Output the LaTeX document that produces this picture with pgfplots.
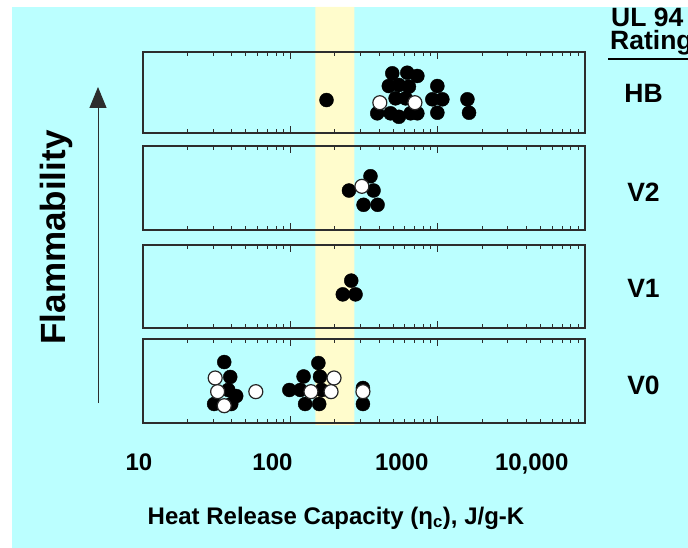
\documentclass[border=0pt]{standalone}
\usepackage{pgfplots}
\pgfplotsset{compat=1.18}
\usetikzlibrary{arrows.meta}
\usepackage{fontspec}
\setmainfont{Liberation Sans}

\definecolor{bgcyan}{RGB}{187,255,255}
\definecolor{band}{RGB}{255,252,204}
\definecolor{framec}{RGB}{45,45,45}

\begin{document}
\begin{tikzpicture}
\useasboundingbox (0,0) rectangle (688pt,-548pt);
\fill[bgcyan] (12pt,-7pt) rectangle (688pt,-548pt);

% yellow band behind the panels
\begin{axis}[at={(143pt,-7pt)}, anchor=north west, scale only axis,
    width=442pt, height=418pt, hide axis,
    xmode=log, xmin=10, xmax=10000, ymin=0, ymax=1]
  \addplot[draw=none, fill=band] coordinates {(148,0) (272,0) (272,1) (148,1)} \closedcycle;
\end{axis}

% HB
\begin{axis}[anchor=north west, scale only axis, width=442pt,
    xmode=log, xmin=10, xmax=10000, ymin=0, ymax=1,
    ytick=\empty, xticklabels={}, tick align=inside, xtick pos=both,
    major tick length=7pt, minor tick length=4pt,
    tick style={line width=1pt, framec},
    axis line style={line width=1.4pt, framec}, clip=false,
    at={(143pt,-52pt)}, height=81pt]
  \addplot[only marks, mark=*, mark size=7pt, mark options={fill=black, draw=black}] coordinates {
    (176,0.407) (492,0.737) (622,0.744) (728,0.704) (466,0.58) (545,0.593)
    (638,0.572) (995,0.58) (920,0.416) (1076,0.416) (1592,0.416) (518,0.428)
    (606,0.428) (389,0.243) (479,0.243) (545,0.20) (655,0.243) (728,0.243)
    (995,0.25) (1633,0.25)};
  \addplot[only marks, mark=*, mark size=7pt, mark options={fill=white, draw=black!85, line width=1.2pt}]
    coordinates {(405,0.374) (701,0.374)};
\end{axis}

% V2
\begin{axis}[anchor=north west, scale only axis, width=442pt,
    xmode=log, xmin=10, xmax=10000, ymin=0, ymax=1,
    ytick=\empty, xticklabels={}, tick align=inside, xtick pos=both,
    major tick length=7pt, minor tick length=4pt,
    tick style={line width=1pt, framec},
    axis line style={line width=1.4pt, framec}, clip=false,
    at={(143pt,-146pt)}, height=84pt]
  \addplot[only marks, mark=*, mark size=7pt, mark options={fill=black, draw=black}]
    coordinates {(350,0.64) (250,0.47) (367,0.47) (314,0.30) (391,0.30)};
  \addplot[only marks, mark=*, mark size=7pt, mark options={fill=white, draw=black!85, line width=1.2pt}]
    coordinates {(306,0.52)};
\end{axis}

% V1
\begin{axis}[anchor=north west, scale only axis, width=442pt,
    xmode=log, xmin=10, xmax=10000, ymin=0, ymax=1,
    ytick=\empty, xticklabels={}, tick align=inside, xtick pos=both,
    major tick length=7pt, minor tick length=4pt,
    tick style={line width=1pt, framec},
    axis line style={line width=1.4pt, framec}, clip=false,
    at={(143pt,-245pt)}, height=83pt]
  \addplot[only marks, mark=*, mark size=7pt, mark options={fill=black, draw=black}]
    coordinates {(259,0.571) (227,0.405) (277,0.405)};
\end{axis}

% V0
\begin{axis}[anchor=north west, scale only axis, width=442pt,
    xmode=log, xmin=10, xmax=10000, ymin=0, ymax=1,
    ytick=\empty, xticklabels={}, tick align=inside, xtick pos=both,
    major tick length=7pt, minor tick length=4pt,
    tick style={line width=1pt, framec},
    axis line style={line width=1.4pt, framec}, clip=false,
    at={(143pt,-339pt)}, height=84pt]
  \addplot[only marks, mark=*, mark size=7pt, mark options={fill=black, draw=black}] coordinates {
    (35.6,0.726) (39.1,0.548) (37.9,0.393) (42.9,0.321) (30.4,0.226) (39.7,0.226)
    (155,0.714) (123,0.554) (159,0.551) (98.5,0.393) (117,0.393) (163,0.393)
    (126,0.226) (157,0.226) (311,0.226) (311,0.417)};
  \addplot[only marks, mark=*, mark size=7pt, mark options={fill=white, draw=black!85, line width=1.2pt}] coordinates {
    (30.9,0.536) (32.1,0.373) (35.6,0.206) (58.3,0.373)
    (198,0.536) (138,0.373) (189,0.373) (311,0.373)};
\end{axis}

% x tick labels (set apart from the ticks as in the original)
\begin{scope}[every node/.style={anchor=base, inner sep=0pt,
    font=\bfseries\fontsize{24}{28}\selectfont}]
  \node at (139pt,-470pt) {10};
  \node at (272.5pt,-470pt) {100};
  \node at (401.7pt,-470pt) {1000};
  \node at (531.7pt,-470pt) {10,000};
  \node at (336pt,-524pt) {Heat Release Capacity (η\textsubscript{c}), J/g-K};
\end{scope}

% rating labels
\begin{scope}[every node/.style={anchor=base, inner sep=0pt,
    font=\bfseries\fontsize{26.5}{30}\selectfont}]
  \node at (643.5pt,-103pt) {HB};
  \node at (643.5pt,-202pt) {V2};
  \node at (643.5pt,-297pt) {V1};
  \node at (643.5pt,-394pt) {V0};
\end{scope}
\node[anchor=base west, inner sep=0pt, font=\bfseries\fontsize{26.5}{28}\selectfont]
  at (611pt,-27pt) {UL 94};
\node[anchor=base west, inner sep=0pt, font=\bfseries\fontsize{26.5}{28}\selectfont]
  at (610pt,-50pt) {Rating};
\draw[line width=2pt] (608pt,-59pt) -- (688pt,-59pt);

% flammability arrow
\node[rotate=90, anchor=base, inner sep=0pt, font=\bfseries\fontsize{35}{40}\selectfont]
  at (65pt,-237.5pt) {Flammability};
\draw[line width=1pt, framec, -{Triangle[width=17pt,length=21pt]}] (98pt,-403pt) -- (98pt,-87pt);
\end{tikzpicture}
\end{document}
